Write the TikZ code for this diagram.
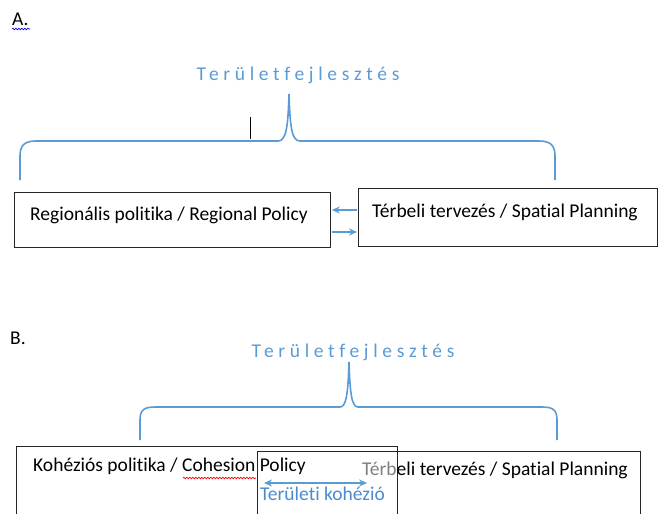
\documentclass[tikz,border=0pt]{standalone}
\usepackage{fontspec}
\setmainfont[RawFeature={-liga;-clig}]{Carlito}
\newfontfamily\spacedfont[LetterSpace=24,RawFeature={-liga;-clig}]{Carlito}
\usetikzlibrary{arrows.meta,decorations.pathmorphing}
\definecolor{braceblue}{HTML}{5B9BD5}
\definecolor{txtblue}{HTML}{4A8AD0}

\tikzset{
  box/.style={draw=black!85,line width=.8pt,inner sep=0pt,anchor=north west},
  lbl/.style={anchor=base west,inner sep=0pt,font=\fontsize{19.5}{23}\selectfont},
  ttl/.style={anchor=base,inner sep=0pt,text=braceblue,font=\spacedfont\fontsize{19.5}{23}\selectfont},
  brc/.style={draw=braceblue,line width=1.6pt},
  arr/.style={->,draw=braceblue,line width=1.2pt,shorten >=1pt,shorten <=1pt},
  spell/.style={draw=#1,line width=.7pt,decorate,decoration={snake,segment length=3pt,amplitude=.8pt}}
}

\begin{document}
\begin{tikzpicture}
		[x=1pt,y=-1pt,>={Stealth[length=8pt,width=7pt]}]
		\clip (0,0) rectangle (659,514);

		% A.
		\node[lbl] (a) at (12,25) {A.};
		\draw[spell=blue] (12,29) -- (30,29);
		\node[ttl] (t1) at (298,80) {Területfejlesztés};
		\draw[brc] (20,180) -- (20,156) .. controls (20,146) and (24,141) .. (36,141) -- (278,141)
			.. controls (286,141) and (288,128) .. (289,94) .. controls (290,128) and (292,141) .. (300,141)
			-- (539,141) .. controls (551,141) and (555,146) .. (555,156) -- (555,180);
		\draw[black,line width=.7pt] (250,117) -- (250,139);

		\node[box,minimum width=316pt,minimum height=55pt] (reg) at (14,192) {};
		\node[box,minimum width=299pt,minimum height=58pt] (spa) at (358,188) {};
		\node[lbl] (regt) at (30,220) {Regionális politika / Regional Policy};
		\node[lbl] (spat) at (372,217) {Térbeli tervezés / Spatial Planning};

		\draw[arr] (spa.west |- 0,210) -- (reg.east |- 0,210);
		\draw[arr] (reg.east |- 0,232) -- (spa.west |- 0,232);

		% B.
		\node[lbl] (b) at (10,344) {B.};
		\node[ttl] (t2) at (353,357) {Területfejlesztés};
		\draw[brc] (140,440) -- (140,420) .. controls (140,410) and (144,407) .. (155,407) -- (340,407)
			.. controls (346,407) and (348,395) .. (349,362) .. controls (350,395) and (352,407) .. (358,407)
			-- (542,407) .. controls (553,407) and (557,410) .. (557,420) -- (557,440);

		\node[box,minimum width=383pt,minimum height=80pt] (spb) at (257,451) {};
		\node[box,minimum width=381pt,minimum height=80pt] (koh) at (16,446) {};
		\node[lbl] (koht) at (33,471) {Kohéziós politika / Cohesion Policy};
		\draw[spell=red] (183,478) -- (256,478);
		\node[lbl] (spbt) at (362,475) {{\color{gray}Térb}eli tervezés / Spatial Planning};

		\coordinate (kl) at (263,483);
		\coordinate (kr) at (368,483);
		\draw[arr,<->] (kl) -- (kr);
		\node[lbl,text=txtblue] (tk) at (260,500) {Területi kohézió};

	\end{tikzpicture}
\end{document}
